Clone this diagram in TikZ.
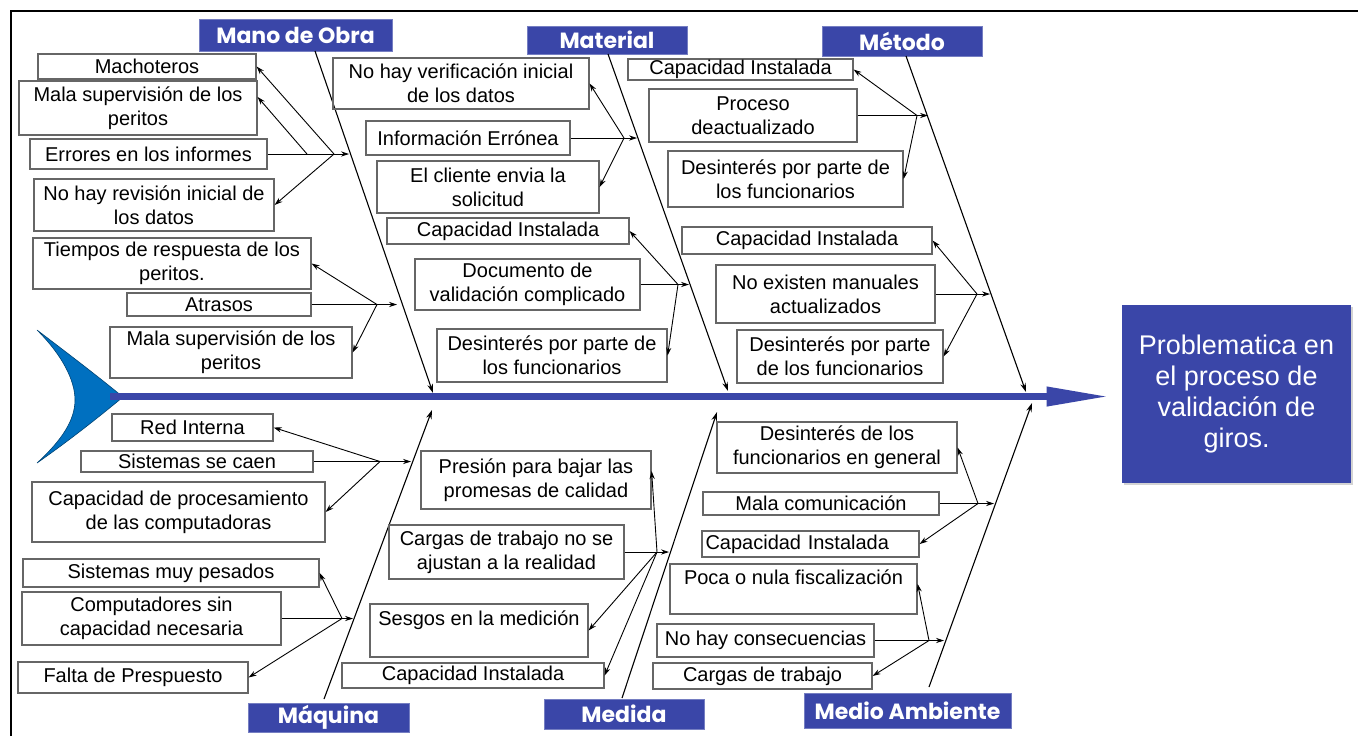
\documentclass[tikz,border=0pt]{standalone}
\usepackage{fontspec}
\setmainfont{Liberation Sans}
\newfontfamily\catfont{Poppins}
\usetikzlibrary{
    arrows.meta,   % Modern arrow tips
    calc,          % Coordinate calculations
    shadows        % Shadow of the result box
}
\definecolor{catblue}{RGB}{58,70,168}
\definecolor{tailblue}{RGB}{0,112,192}

\begin{document}
\begin{tikzpicture}[x=0.5pt,y=-0.5pt,
    cause/.style={draw=black!60, line width=0.6pt, inner sep=0pt, align=center,
        font=\fontsize{10}{12}\selectfont},
    cat/.style={fill=catblue, draw=catblue!70, text=white, inner sep=0pt,
        font=\catfont\bfseries\fontsize{11}{13}\selectfont},
    ar/.style={line width=0.45pt, -{Stealth[length=4pt,width=2.6pt]}},
    bone/.style={line width=0.55pt, -{Stealth[length=4.5pt,width=2.8pt]}}
]
    \useasboundingbox (0,0) rectangle (1358,736);
    \draw[line width=1pt] (11,736) -- (11,11) -- (1358,11);

    % head and tail
    \node[fill=catblue, text=white, minimum width=114.5pt, minimum height=89pt, align=center,
        drop shadow={shadow xshift=1.2pt, shadow yshift=-1.2pt, opacity=0.35},
        font=\fontsize{13.5}{15.5}\selectfont] (prob) at (1236.5,394)
        {Problematica en\\el proceso de\\validación de\\giros.};
    \fill[tailblue, draw=tailblue!60!black, line width=0.3pt] (37,330)
        .. controls (70,355) and (100,378) .. (123,397)
        .. controls (100,416) and (70,440) .. (37,463)
        .. controls (62,440) and (75,420) .. (75,400)
        .. controls (75,380) and (62,355) .. (37,330) -- cycle;
    \coordinate (spst) at (110,396.5);
    \draw[catblue, line width=3.5pt, shorten >=6pt, -{Triangle[length=31.5pt,width=9pt]}]
        (spst) -- (spst -| prob.west);

    % categories
    \node[cat, minimum width=96.5pt, minimum height=16pt] (mobra) at (295.5,35) {Mano de Obra};
    \node[cat, minimum width=80pt, minimum height=14pt] (mater) at (607,40) {Material};
    \node[cat, minimum width=80pt, minimum height=15pt] (metod) at (902,41) {Método};
    \node[cat, minimum width=80.5pt, minimum height=14.5pt] (maqui) at (328.5,717.5) {Máquina};
    \node[cat, minimum width=80pt, minimum height=15pt] (medid) at (624,714) {Medida};
    \node[cat, minimum width=103.5pt, minimum height=17.5pt] (mambi) at (907.5,710.5) {Medio Ambiente};

    \coordinate (tmo) at (315,51);  \coordinate (smo) at (433,393);
    \coordinate (tma) at (608,54);  \coordinate (sma) at (728,391);
    \coordinate (tme) at (906,56);  \coordinate (sme) at (1026,392);
    \coordinate (tmq) at (324,699); \coordinate (smq) at (432,410);
    \coordinate (tmd) at (622,698); \coordinate (smd) at (717,412);
    \coordinate (tam) at (929,687); \coordinate (sam) at (1032,403);
    \draw[bone] (tmo) -- (smo);
    \draw[bone] (tma) -- (sma);
    \draw[bone] (tme) -- (sme);
    \draw[bone] (tmq) -- (smq);
    \draw[bone] (tmd) -- (smd);
    \draw[bone] (tam) -- (sam);

    % Mano de Obra
    \node[cause, minimum width=109pt, minimum height=12.5pt] (mach) at (147,66.5) {Machoteros};
    \node[cause, minimum width=119pt, minimum height=27pt] (malasup) at (138,108) {Mala supervisión de los\\peritos};
    \node[cause, minimum width=118.5pt, minimum height=15pt] (errores) at (148.5,154) {Errores en los informes};
    \node[cause, minimum width=120pt, minimum height=26pt] (norev) at (154,205) {No hay revisión inicial de\\los datos};
    \node[cause, minimum width=139pt, minimum height=25.5pt] (tiempos) at (172,263.5) {Tiempos de respuesta de los\\peritos.};
    \node[cause, minimum width=92pt, minimum height=11.5pt] (atrasos) at (219,304.5) {Atrasos};
    \node[cause, minimum width=121pt, minimum height=25.5pt] (malasupb) at (231,352.5) {Mala supervisión de los\\peritos};

    \coordinate (hmo1) at (334,154); \coordinate (kmo1) at (307,154); \coordinate (bmo1) at (349,154);
    \draw[ar] (errores.east) -- (bmo1);
    \draw[ar] (hmo1) -- (mach.east);
    \draw[ar] (kmo1) -- ($(malasup.north east)!0.3!(malasup.south east)$);
    \draw[ar] (hmo1) -- (norev.east);
    \coordinate (hmo2) at (377,304.5); \coordinate (bmo2) at (397,304.5);
    \draw[ar] (atrasos.east) -- (bmo2);
    \draw[ar] (hmo2) -- (tiempos.east);
    \draw[ar] (hmo2) -- (malasupb.east);

    % Material
    \node[cause, minimum width=128pt, minimum height=25.5pt] (noverif) at (461,83.5) {No hay verificación inicial\\de los datos};
    \node[cause, minimum width=102pt, minimum height=17pt] (infoerr) at (468,138) {Información Errónea};
    \node[cause, minimum width=111pt, minimum height=26pt] (cliente) at (488,187) {El cliente envia la\\solicitud};
    \node[cause, minimum width=121pt, minimum height=13pt] (capmat) at (508,231) {Capacidad Instalada};
    \node[cause, minimum width=112.5pt, minimum height=25.5pt] (docval) at (527.5,284.5) {Documento de\\validación complicado};
    \node[cause, minimum width=115pt, minimum height=26.5pt] (desmat) at (552,355.5) {Desinterés por parte de\\los funcionarios};

    \coordinate (hma1) at (624,138); \coordinate (bma1) at (637,138);
    \draw[ar] (infoerr.east) -- (bma1);
    \draw[ar] (hma1) -- (noverif.east);
    \draw[ar] (hma1) -- (cliente.east);
    \coordinate (hma2) at (678,284.5); \coordinate (bma2) at (689,284.5);
    \draw[ar] (docval.east) -- (bma2);
    \draw[ar] (hma2) -- (capmat.east);
    \draw[ar] (hma2) -- (desmat.east);

    % Método
    \node[cause, minimum width=112.5pt, minimum height=10.5pt] (capmet) at (740.5,69.5) {Capacidad Instalada};
    \node[cause, minimum width=104pt, minimum height=26.5pt] (proceso) at (753,115.5) {Proceso\\deactualizado};
    \node[cause, minimum width=117.5pt, minimum height=28pt] (desmet) at (785.5,179) {Desinterés por parte de\\los funcionarios};
    \node[cause, minimum width=125pt, minimum height=13.5pt] (capmetb) at (807,240.5) {Capacidad Instalada};
    \node[cause, minimum width=109.5pt, minimum height=29pt] (manuales) at (825.5,294) {No existen manuales\\actualizados};
    \node[cause, minimum width=103pt, minimum height=26.5pt] (desmetb) at (840,356.5) {Desinterés por parte\\de los funcionarios};

    \coordinate (hme1) at (917,115.5); \coordinate (bme1) at (928,115.5);
    \draw[ar] (proceso.east) -- (bme1);
    \draw[ar] (hme1) -- (capmet.east);
    \draw[ar] (hme1) -- (desmet.east);
    \coordinate (hme2) at (977,294); \coordinate (bme2) at (990,294);
    \draw[ar] (manuales.east) -- (bme2);
    \draw[ar] (hme2) -- (capmetb.east);
    \draw[ar] (hme2) -- (desmetb.east);

    % Máquina
    \node[cause, minimum width=80.5pt, minimum height=13.5pt] (red) at (192.5,427.5) {Red Interna};
    \node[cause, minimum width=116pt, minimum height=10.5pt] (caen) at (197,461.5) {Sistemas se caen};
    \node[cause, minimum width=146.5pt, minimum height=30pt] (procesam) at (178.5,512) {Capacidad de procesamiento\\de las computadoras};
    \node[cause, minimum width=148pt, minimum height=14pt] (pesados) at (171,573) {Sistemas muy pesados};
    \node[cause, minimum width=129.5pt, minimum height=26.5pt] (comput) at (151.5,618.5) {Computadores sin\\capacidad necesaria};
    \node[cause, minimum width=115pt, minimum height=15.5pt] (falta) at (133,677.5) {Falta de Prespuesto};

    \coordinate (hmq1) at (380,461.5); \coordinate (bmq1) at (411,461.5);
    \draw[ar] (caen.east) -- (bmq1);
    \draw[ar] (hmq1) -- (red.east);
    \draw[ar] (hmq1) -- (procesam.east);
    \coordinate (hmq2) at (342,618.5); \coordinate (bmq2) at (353,618.5);
    \draw[ar] (comput.east) -- (bmq2);
    \draw[ar] (hmq2) -- (pesados.east);
    \draw[ar] (hmq2) -- (falta.east);

    % Medida
    \node[cause, minimum width=115pt, minimum height=29pt] (presion) at (536,480) {Presión para bajar las\\promesas de calidad};
    \node[cause, minimum width=117.5pt, minimum height=27pt] (cargas) at (506.5,552) {Cargas de trabajo no se\\ajustan a la realidad};
    \node[cause, minimum width=109pt, minimum height=26.5pt] (sesgos) at (479,630.5) {Sesgos en la medición\\\mbox{}};
    \node[cause, minimum width=131pt, minimum height=12.5pt] (capmed) at (473,675.5) {Capacidad Instalada};

    \coordinate (hmd) at (657,552); \coordinate (bmd) at (669,552);
    \draw[ar] (cargas.east) -- (bmd);
    \draw[ar] (hmd) -- ($(presion.north east)!0.35!(presion.south east)$);
    \draw[ar] (hmd) -- (sesgos.east);
    \draw[ar] (hmd) -- (capmed.east);

    % Medio Ambiente
    \node[cause, minimum width=120pt, minimum height=25.5pt] (desgen) at (837,447.5) {Desinterés de los\\funcionarios en general};
    \node[cause, minimum width=118pt, minimum height=11.5pt] (comunic) at (821,503.5) {Mala comunicación};
    \node[cause, minimum width=108.5pt, minimum height=13pt, text width=105pt, align=left] (capamb) at (810.5,544) {Capacidad Instalada};
    \node[cause, minimum width=123.5pt, minimum height=25pt] (poca) at (793.5,589) {Poca o nula fiscalización\\\mbox{}};
    \node[cause, minimum width=108.5pt, minimum height=16.5pt] (consec) at (765.5,640.5) {No hay consecuencias};
    \node[cause, minimum width=109.5pt, minimum height=13pt] (cargasamb) at (762.5,676) {Cargas de trabajo};

    \coordinate (ham1) at (978,503.5); \coordinate (bam1) at (994,503.5);
    \draw[ar] (comunic.east) -- (bam1);
    \draw[ar] (ham1) -- (desgen.east);
    \draw[ar] (ham1) -- (capamb.east);
    \coordinate (ham2) at (929,640.5); \coordinate (bam2) at (944,640.5);
    \draw[ar] (consec.east) -- (bam2);
    \draw[ar] (ham2) -- ($(poca.north east)!0.4!(poca.south east)$);
    \draw[ar] (ham2) -- (cargasamb.east);
\end{tikzpicture}
\end{document}
